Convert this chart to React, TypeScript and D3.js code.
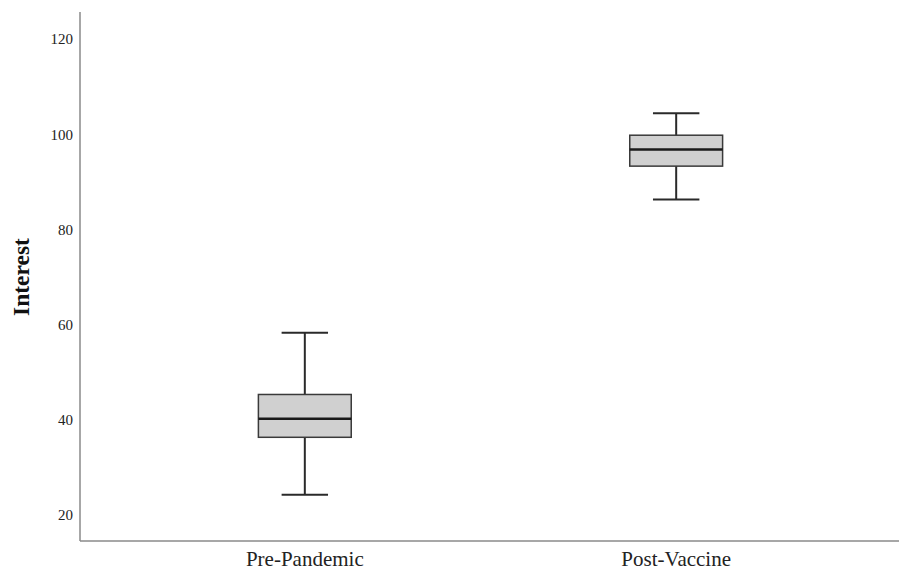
import React, { useEffect, useRef } from "react";
import * as d3 from "d3";

// box plot summary values
const groups = ["Pre-Pandemic", "Post-Vaccine"];
const whiskerLow = [24.2, 86.3];
const q1 = [36.3, 93.3];
const median = [40.2, 96.8];
const q3 = [45.3, 99.8];
const whiskerHigh = [58.3, 104.4];
const yTicks = [20, 40, 60, 80, 100, 120];

const App = () => {
  const ref = useRef<SVGSVGElement>(null);

  useEffect(() => {
    const width = 899;
    const height = 572;
    const margin = { top: 12, right: 0, bottom: 31, left: 80 };

    const svg = d3.select(ref.current)
      .attr("width", width)
      .attr("height", height);
    svg.selectAll("*").remove();

    const xScale = d3.scalePoint<string>()
      .domain(groups)
      .range([margin.left + 2, width - margin.right])
      .padding(0.6);

    const yScale = d3.scaleLinear()
      .domain([14.5, 125.7])
      .range([height - margin.bottom, margin.top]);

    const step = xScale.step();
    const boxW = step * 0.25;
    const capW = boxW * 0.5;

    const data = groups.map((g, i) => ({
      g,
      lo: whiskerLow[i],
      q1: q1[i],
      med: median[i],
      q3: q3[i],
      hi: whiskerHigh[i],
    }));

    const font = "'Liberation Serif', 'Times New Roman', serif";

    // axes (no ticks, only lines and labels)
    svg.append("line")
      .attr("x1", margin.left).attr("x2", margin.left)
      .attr("y1", margin.top).attr("y2", height - margin.bottom)
      .attr("stroke", "#8a8a8a").attr("stroke-width", 1.5);
    svg.append("line")
      .attr("x1", margin.left).attr("x2", width)
      .attr("y1", height - margin.bottom).attr("y2", height - margin.bottom)
      .attr("stroke", "#8a8a8a").attr("stroke-width", 1.5);

    svg.append("g")
      .selectAll("text")
      .data(yTicks)
      .enter()
      .append("text")
      .attr("x", margin.left - 7)
      .attr("y", d => yScale(d))
      .attr("dy", "0.35em")
      .attr("text-anchor", "end")
      .attr("font-family", font)
      .attr("font-size", 15)
      .attr("fill", "#222")
      .text(d => d);

    svg.append("g")
      .selectAll("text")
      .data(groups)
      .enter()
      .append("text")
      .attr("x", d => xScale(d) as number)
      .attr("y", height - margin.bottom + 25)
      .attr("text-anchor", "middle")
      .attr("font-family", font)
      .attr("font-size", 21)
      .attr("fill", "#222")
      .text(d => d);

    svg.append("text")
      .attr("transform", `translate(29, 277) rotate(-90)`)
      .attr("text-anchor", "middle")
      .attr("font-family", font)
      .attr("font-size", 23.5)
      .attr("font-weight", "bold")
      .attr("fill", "#111")
      .text("Interest");

    const boxes = svg.append("g")
      .selectAll("g")
      .data(data)
      .enter()
      .append("g");

    const stroke = "#2a2a2a";

    // whisker stems
    boxes.append("line")
      .attr("x1", d => xScale(d.g) as number)
      .attr("x2", d => xScale(d.g) as number)
      .attr("y1", d => yScale(d.hi))
      .attr("y2", d => yScale(d.lo))
      .attr("stroke", stroke).attr("stroke-width", 2);

    // caps
    boxes.selectAll(".cap")
      .data(d => [d.lo, d.hi].map(v => ({ g: d.g, v })))
      .enter()
      .append("line")
      .attr("class", "cap")
      .attr("x1", d => (xScale(d.g) as number) - capW / 2)
      .attr("x2", d => (xScale(d.g) as number) + capW / 2)
      .attr("y1", d => yScale(d.v))
      .attr("y2", d => yScale(d.v))
      .attr("stroke", stroke).attr("stroke-width", 2);

    boxes.append("rect")
      .attr("x", d => (xScale(d.g) as number) - boxW / 2)
      .attr("y", d => yScale(d.q3))
      .attr("width", boxW)
      .attr("height", d => yScale(d.q1) - yScale(d.q3))
      .attr("fill", "#d0d0d0")
      .attr("stroke", "#3a3a3a")
      .attr("stroke-width", 1.5);

    boxes.append("line")
      .attr("x1", d => (xScale(d.g) as number) - boxW / 2)
      .attr("x2", d => (xScale(d.g) as number) + boxW / 2)
      .attr("y1", d => yScale(d.med))
      .attr("y2", d => yScale(d.med))
      .attr("stroke", "#1a1a1a").attr("stroke-width", 2.5);
  }, []);

  return <svg ref={ref} style={{ position: "absolute", left: 0, top: 0 }}></svg>;
};

export default App;
